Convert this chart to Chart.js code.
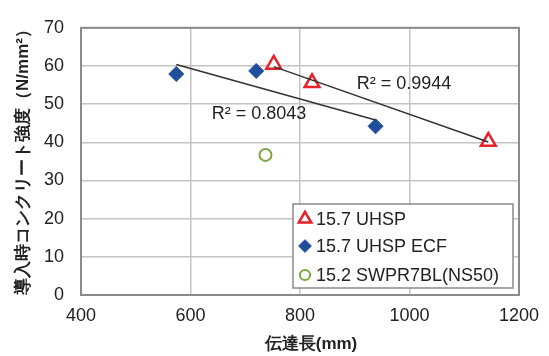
<!DOCTYPE html>
<html>
<head>
<meta charset="utf-8">
<script src="https://cdn.jsdelivr.net/npm/chart.js@4"></script>
<style>
  html, body { margin: 0; padding: 0; background: #fff; }
  #wrap { width: 549px; height: 356px; }
</style>
</head>
<body>
<div id="wrap"><canvas id="chart" width="549" height="356"></canvas></div>
<script>
// values
const uhspX = [752, 822, 1144];
const uhspY = [60.4, 55.6, 40.2];
const ecfX = [574, 720, 938];
const ecfY = [57.9, 58.7, 44.2];
const swprX = [737];
const swprY = [36.7];

const seriesNames = ["15.7 UHSP", "15.7 UHSP ECF", "15.2 SWPR7BL(NS50)"];
const r2Labels = ["R² = 0.9944", "R² = 0.8043"];
const xTicks = [400, 600, 800, 1000, 1200];
const yTicks = [0, 10, 20, 30, 40, 50, 60, 70];
const xTitle = "伝達長(mm)";
const yTitle = "導入時コンクリート強度（N/mm²）";

const FONT = "'Liberation Sans', Arial, sans-serif";

const toPoints = (xs, ys) => xs.map((x, i) => ({ x: x, y: ys[i] }));

// least squares line over the range of the series
function trend(xs, ys) {
  const n = xs.length;
  const mx = xs.reduce((a, b) => a + b, 0) / n;
  const my = ys.reduce((a, b) => a + b, 0) / n;
  let sxy = 0, sxx = 0;
  xs.forEach((x, i) => {
    sxy += (x - mx) * (ys[i] - my);
    sxx += (x - mx) * (x - mx);
  });
  const k = sxy / sxx;
  const x0 = Math.min(...xs), x1 = Math.max(...xs);
  return [{ x: x0, y: my + k * (x0 - mx) }, { x: x1, y: my + k * (x1 - mx) }];
}

const markers = [
  { pointStyle: "triangle", radius: 8.5, borderWidth: 2.5, color: "#e8202a", fill: "#ffffff" },
  { pointStyle: "rectRot", radius: 7.5, borderWidth: 1, color: "#1f4e9c", fill: "#1f4e9c" },
  { pointStyle: "circle", radius: 6, borderWidth: 2, color: "#79a83b", fill: "#ffffff" },
];

const extras = {
  id: "extras",
  afterDraw(chart) {
    const ctx = chart.ctx;
    const a = chart.chartArea;
    const xs = chart.scales.x, ys = chart.scales.y;
    ctx.save();

    // frame
    ctx.strokeStyle = "#8a8a8a";
    ctx.lineWidth = 2;
    ctx.strokeRect(a.left, a.top, a.right - a.left, a.bottom - a.top);

    // R² labels
    ctx.fillStyle = "#222";
    ctx.font = "18px " + FONT;
    ctx.textAlign = "center";
    ctx.textBaseline = "middle";
    ctx.fillText(r2Labels[0], xs.getPixelForValue(990), ys.getPixelForValue(55.3));
    ctx.fillText(r2Labels[1], xs.getPixelForValue(725), ys.getPixelForValue(47.4));

    // axis titles
    ctx.font = "bold 17px " + FONT;
    ctx.fillText(xTitle, 311, 344);
    ctx.save();
    ctx.translate(23, 158);
    ctx.rotate(-Math.PI / 2);
    ctx.fillText(yTitle, 0, 0);
    ctx.restore();

    // legend
    const lx = 293, ly = 204, lw = 220, lh = 84;
    ctx.fillStyle = "#fff";
    ctx.fillRect(lx, ly, lw, lh);
    ctx.strokeStyle = "#8a8a8a";
    ctx.lineWidth = 1.5;
    ctx.strokeRect(lx, ly, lw, lh);
    const rows = [219, 246, 275];
    ctx.font = "18px " + FONT;
    ctx.textAlign = "left";
    seriesNames.forEach((name, i) => {
      const m = markers[i];
      ctx.strokeStyle = m.color;
      ctx.fillStyle = m.fill;
      ctx.lineWidth = m.borderWidth;
      Chart.helpers.drawPoint(ctx, {
        pointStyle: m.pointStyle,
        radius: m.radius * 0.85,
        rotation: 0,
        borderWidth: m.borderWidth,
      }, 305, rows[i]);
      ctx.fillStyle = "#222";
      ctx.fillText(name, 316, rows[i] + 1);
    });
    ctx.restore();
  },
};

const tickFont = { family: FONT, size: 18 };

new Chart(document.getElementById("chart"), {
  type: "scatter",
  data: {
    datasets: [
      {
        label: "trend ECF",
        data: trend(ecfX, ecfY),
        showLine: true,
        borderColor: "#333",
        borderWidth: 1.5,
        pointRadius: 0,
      },
      {
        label: "trend UHSP",
        data: trend(uhspX, uhspY),
        showLine: true,
        borderColor: "#333",
        borderWidth: 1.5,
        pointRadius: 0,
      },
      {
        label: seriesNames[1],
        data: toPoints(ecfX, ecfY),
        pointStyle: markers[1].pointStyle,
        pointRadius: markers[1].radius,
        borderWidth: markers[1].borderWidth,
        borderColor: markers[1].color,
        backgroundColor: markers[1].fill,
      },
      {
        label: seriesNames[0],
        data: toPoints(uhspX, uhspY),
        pointStyle: markers[0].pointStyle,
        pointRadius: markers[0].radius,
        borderWidth: markers[0].borderWidth,
        borderColor: markers[0].color,
        backgroundColor: markers[0].fill,
      },
      {
        label: seriesNames[2],
        data: toPoints(swprX, swprY),
        pointStyle: markers[2].pointStyle,
        pointRadius: markers[2].radius,
        borderWidth: markers[2].borderWidth,
        borderColor: markers[2].color,
        backgroundColor: markers[2].fill,
      },
    ],
  },
  options: {
    responsive: false,
    animation: false,
    layout: { padding: { top: 22, right: 29, left: 0, bottom: 0 } },
    plugins: { legend: { display: false }, tooltip: { enabled: false } },
    scales: {
      x: {
        type: "linear",
        min: 400,
        max: 1200,
        afterBuildTicks: (s) => { s.ticks = xTicks.map((v) => ({ value: v })); },
        afterFit: (s) => { s.height = 61; },
        grid: { color: "#c4c4c4", lineWidth: 1.5, drawTicks: false },
        border: { display: false },
        ticks: { padding: 10, color: "#222", font: tickFont, callback: (v) => String(v) },
      },
      y: {
        type: "linear",
        min: 0,
        max: 70,
        afterBuildTicks: (s) => { s.ticks = yTicks.map((v) => ({ value: v })); },
        afterFit: (s) => { s.width = 81; },
        grid: { color: "#c4c4c4", lineWidth: 1.5, drawTicks: false },
        border: { display: false },
        ticks: { padding: 17, color: "#222", font: tickFont, callback: (v) => String(v) },
      },
    },
  },
  plugins: [extras],
});
</script>
</body>
</html>
